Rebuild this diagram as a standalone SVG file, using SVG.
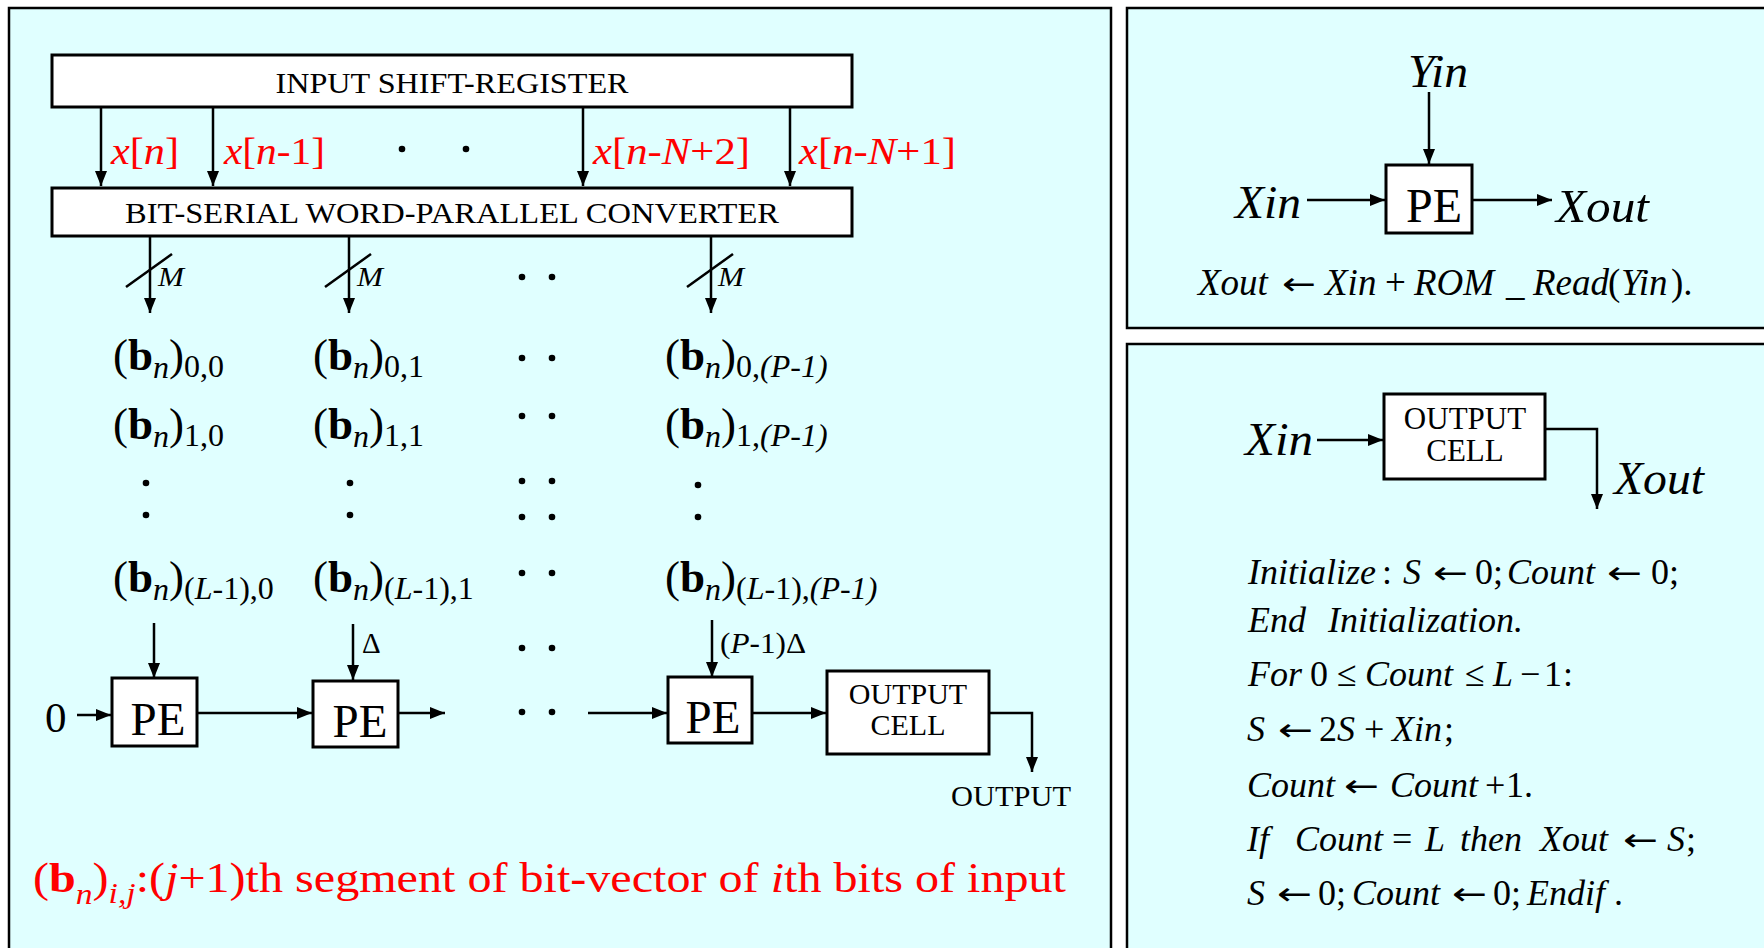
<svg xmlns="http://www.w3.org/2000/svg" width="1764" height="948" viewBox="0 0 1764 948">
<style>
text{font-family:"Liberation Serif","Times New Roman",serif;fill:#000}
.it{font-style:italic}
.bd{font-weight:bold}
.red{fill:#FF0000}
.panel{fill:#E0FFFF;stroke:#000;stroke-width:2.5}
.box{fill:#FFFFFF;stroke:#000;stroke-width:3}
.ln{fill:none;stroke:#000;stroke-width:2.5}
.m{font-size:45px}
.s{font-size:32px}
.dot{fill:#000}
.cap{font-size:29px}
.code{font-size:36px}
.arr{font-family:"DejaVu Sans",sans-serif;font-size:32px}
</style>
<defs>
<marker id="ah" markerUnits="userSpaceOnUse" markerWidth="16" markerHeight="14" refX="15" refY="7" orient="auto">
<path d="M0,1 L15,7 L0,13 z" fill="#000"/>
</marker>
</defs>
<rect width="1764" height="948" fill="#FFFFFF"/>
<rect class="panel" x="9" y="8" width="1102" height="960"/>
<rect class="panel" x="1127" y="8" width="700" height="320"/>
<rect class="panel" x="1127" y="344" width="700" height="700"/>

<g id="isr">
<rect class="box" x="52" y="55" width="800" height="52"/>
<text class="cap" x="452" y="92.5" text-anchor="middle" textLength="353" lengthAdjust="spacingAndGlyphs">INPUT SHIFT-REGISTER</text>
</g>
<g id="converter">
<rect class="box" x="52" y="188" width="800" height="48"/>
<text class="cap" x="452" y="223" text-anchor="middle" textLength="654" lengthAdjust="spacingAndGlyphs">BIT-SERIAL WORD-PARALLEL CONVERTER</text>
</g>

<g id="input-labels" font-size="38">
<text class="red" x="111" y="164" textLength="68" lengthAdjust="spacingAndGlyphs"><tspan class="it red">x</tspan>[<tspan class="it red">n</tspan>]</text>
<text class="red" x="224" y="164" textLength="101" lengthAdjust="spacingAndGlyphs"><tspan class="it red">x</tspan>[<tspan class="it red">n</tspan>-1]</text>
<text class="red" x="593" y="164" textLength="157" lengthAdjust="spacingAndGlyphs"><tspan class="it red">x</tspan>[<tspan class="it red">n</tspan>-<tspan class="it red">N</tspan>+2]</text>
<text class="red" x="799" y="164" textLength="157" lengthAdjust="spacingAndGlyphs"><tspan class="it red">x</tspan>[<tspan class="it red">n</tspan>-<tspan class="it red">N</tspan>+1]</text>
<circle class="dot" cx="402" cy="149" r="3.3"/>
<circle class="dot" cx="466" cy="149" r="3.3"/>
</g>

<g id="connectors">
<line class="ln" x1="101" y1="107" x2="101" y2="186" marker-end="url(#ah)"/>
<line class="ln" x1="213" y1="107" x2="213" y2="186" marker-end="url(#ah)"/>
<line class="ln" x1="583" y1="107" x2="583" y2="186" marker-end="url(#ah)"/>
<line class="ln" x1="790" y1="107" x2="790" y2="186" marker-end="url(#ah)"/>
<line class="ln" x1="150" y1="236" x2="150" y2="313" marker-end="url(#ah)"/>
<line class="ln" x1="349" y1="236" x2="349" y2="313" marker-end="url(#ah)"/>
<line class="ln" x1="711" y1="236" x2="711" y2="313" marker-end="url(#ah)"/>
<line class="ln" x1="126" y1="287" x2="172" y2="254"/>
<line class="ln" x1="325" y1="287" x2="371" y2="254"/>
<line class="ln" x1="687" y1="287" x2="733" y2="254"/>
<line class="ln" x1="154" y1="623" x2="154" y2="678" marker-end="url(#ah)"/>
<line class="ln" x1="353" y1="624" x2="353" y2="680" marker-end="url(#ah)"/>
<line class="ln" x1="712" y1="620" x2="712" y2="677" marker-end="url(#ah)"/>
<line class="ln" x1="77" y1="715" x2="111" y2="715" marker-end="url(#ah)"/>
<line class="ln" x1="197" y1="713" x2="312" y2="713" marker-end="url(#ah)"/>
<line class="ln" x1="398" y1="713" x2="445" y2="713" marker-end="url(#ah)"/>
<line class="ln" x1="588" y1="713" x2="667" y2="713" marker-end="url(#ah)"/>
<line class="ln" x1="752" y1="713" x2="826" y2="713" marker-end="url(#ah)"/>
<polyline class="ln" points="989,713 1032,713 1032,772" marker-end="url(#ah)"/>
<line class="ln" x1="1429" y1="92" x2="1429" y2="164" marker-end="url(#ah)"/>
<line class="ln" x1="1307" y1="200" x2="1385" y2="200" marker-end="url(#ah)"/>
<line class="ln" x1="1473" y1="200" x2="1552" y2="200" marker-end="url(#ah)"/>
<line class="ln" x1="1317" y1="440" x2="1383" y2="440" marker-end="url(#ah)"/>
<polyline class="ln" points="1545,429 1597,429 1597,509" marker-end="url(#ah)"/>
</g>

<g id="bus-labels" font-size="27">
<text class="it" x="158" y="286" textLength="26" lengthAdjust="spacingAndGlyphs">M</text>
<text class="it" x="357" y="286" textLength="26" lengthAdjust="spacingAndGlyphs">M</text>
<text class="it" x="718" y="286" textLength="26" lengthAdjust="spacingAndGlyphs">M</text>
</g>

<g id="matrix">
<text class="m" x="113" y="370">(<tspan class="bd">b</tspan><tspan class="s it" dy="8">n</tspan><tspan dy="-8">)</tspan><tspan class="s" dy="7">0,0</tspan></text>
<text class="m" x="313" y="370">(<tspan class="bd">b</tspan><tspan class="s it" dy="8">n</tspan><tspan dy="-8">)</tspan><tspan class="s" dy="7">0,1</tspan></text>
<text class="m" x="665" y="370">(<tspan class="bd">b</tspan><tspan class="s it" dy="8">n</tspan><tspan dy="-8">)</tspan><tspan class="s" dy="7">0,</tspan><tspan class="s it">(P-1)</tspan></text>
<text class="m" x="113" y="439">(<tspan class="bd">b</tspan><tspan class="s it" dy="8">n</tspan><tspan dy="-8">)</tspan><tspan class="s" dy="7">1,0</tspan></text>
<text class="m" x="313" y="439">(<tspan class="bd">b</tspan><tspan class="s it" dy="8">n</tspan><tspan dy="-8">)</tspan><tspan class="s" dy="7">1,1</tspan></text>
<text class="m" x="665" y="439">(<tspan class="bd">b</tspan><tspan class="s it" dy="8">n</tspan><tspan dy="-8">)</tspan><tspan class="s" dy="7">1,</tspan><tspan class="s it">(P-1)</tspan></text>
<text class="m" x="113" y="592">(<tspan class="bd">b</tspan><tspan class="s it" dy="8">n</tspan><tspan dy="-8">)</tspan><tspan class="s" dy="7">(</tspan><tspan class="s it">L</tspan><tspan class="s">-1),0</tspan></text>
<text class="m" x="313" y="592">(<tspan class="bd">b</tspan><tspan class="s it" dy="8">n</tspan><tspan dy="-8">)</tspan><tspan class="s" dy="7">(</tspan><tspan class="s it">L</tspan><tspan class="s">-1),1</tspan></text>
<text class="m" x="665" y="592">(<tspan class="bd">b</tspan><tspan class="s it" dy="8">n</tspan><tspan dy="-8">)</tspan><tspan class="s" dy="7">(</tspan><tspan class="s it">L</tspan><tspan class="s">-1),</tspan><tspan class="s it">(P-1)</tspan></text>
<circle class="dot" cx="146" cy="483" r="3.3"/>
<circle class="dot" cx="146" cy="515" r="3.3"/>
<circle class="dot" cx="350" cy="483" r="3.3"/>
<circle class="dot" cx="350" cy="515" r="3.3"/>
<circle class="dot" cx="698" cy="485" r="3.3"/>
<circle class="dot" cx="698" cy="517" r="3.3"/>
<circle class="dot" cx="522" cy="277" r="3.3"/><circle class="dot" cx="552" cy="277" r="3.3"/>
<circle class="dot" cx="522" cy="358" r="3.3"/><circle class="dot" cx="552" cy="358" r="3.3"/>
<circle class="dot" cx="522" cy="416" r="3.3"/><circle class="dot" cx="552" cy="416" r="3.3"/>
<circle class="dot" cx="522" cy="481" r="3.3"/><circle class="dot" cx="552" cy="481" r="3.3"/>
<circle class="dot" cx="522" cy="517" r="3.3"/><circle class="dot" cx="552" cy="517" r="3.3"/>
<circle class="dot" cx="522" cy="573" r="3.3"/><circle class="dot" cx="552" cy="573" r="3.3"/>
<circle class="dot" cx="522" cy="648" r="3.3"/><circle class="dot" cx="552" cy="648" r="3.3"/>
<circle class="dot" cx="522" cy="712" r="3.3"/><circle class="dot" cx="552" cy="712" r="3.3"/>
</g>

<g id="delays" font-size="29">
<text x="362" y="653">Δ</text>
<text x="720" y="653" textLength="86" lengthAdjust="spacingAndGlyphs">(<tspan class="it">P</tspan>-1)Δ</text>
</g>

<g id="zero"><text x="45" y="732" font-size="43">0</text></g>
<g id="pe1"><rect class="box" x="112" y="678" width="85" height="68"/><text x="158" y="735" font-size="47" text-anchor="middle">PE</text></g>
<g id="pe2"><rect class="box" x="313" y="681" width="85" height="66"/><text x="360" y="737" font-size="47" text-anchor="middle">PE</text></g>
<g id="pe3"><rect class="box" x="668" y="677" width="84" height="66"/><text x="713" y="733" font-size="47" text-anchor="middle">PE</text></g>
<g id="output-cell"><rect class="box" x="827" y="671" width="162" height="83"/>
<text x="908" y="704" font-size="30" text-anchor="middle">OUTPUT</text>
<text x="908" y="735" font-size="30" text-anchor="middle">CELL</text></g>
<g id="output-label"><text x="1011" y="806" font-size="30" text-anchor="middle" textLength="120" lengthAdjust="spacingAndGlyphs">OUTPUT</text></g>

<g id="caption">
<text class="red" x="33" y="892" font-size="43" textLength="1033" lengthAdjust="spacingAndGlyphs">(<tspan class="bd red">b</tspan><tspan class="it red" font-size="30" dy="12">n</tspan><tspan dy="-12">)</tspan><tspan class="it red" font-size="30" dy="11">i,j</tspan><tspan dy="-11">:(</tspan><tspan class="it red">j</tspan>+1)th segment of bit-vector of <tspan class="it red">i</tspan>th bits of input</text>
</g>

<g id="pe-detail">
<text class="it" x="1438" y="87" font-size="46" text-anchor="middle" textLength="60" lengthAdjust="spacingAndGlyphs">Yin</text>
<rect class="box" x="1386" y="165" width="86" height="68" stroke-width="2.5"/>
<text x="1434" y="222" font-size="48" text-anchor="middle">PE</text>
<text class="it" x="1235" y="218" font-size="46" textLength="66" lengthAdjust="spacingAndGlyphs">Xin</text>
<text class="it" x="1556" y="222" font-size="47" textLength="93" lengthAdjust="spacingAndGlyphs">Xout</text>
<text font-size="37" y="295"><tspan class="it" x="1198">Xout</tspan><tspan class="it" x="1325">Xin</tspan><tspan x="1385">+</tspan><tspan class="it" x="1414">ROM</tspan><tspan x="1506">_</tspan><tspan class="it" x="1533">Read</tspan><tspan x="1608">(</tspan><tspan class="it" x="1621">Yin</tspan><tspan x="1671">).</tspan></text>
<text class="arr" x="1282" y="295" textLength="34" lengthAdjust="spacingAndGlyphs">←</text>
</g>

<g id="oc-detail">
<text class="it" x="1245" y="455" font-size="46" textLength="68" lengthAdjust="spacingAndGlyphs">Xin</text>
<rect class="box" x="1384" y="394" width="161" height="85" stroke-width="2.5"/>
<text x="1465" y="429" font-size="31" text-anchor="middle">OUTPUT</text>
<text x="1465" y="461" font-size="31" text-anchor="middle">CELL</text>
<text class="it" x="1614" y="494" font-size="46" textLength="90" lengthAdjust="spacingAndGlyphs">Xout</text>
</g>

<g id="oc-algorithm">
<text class="code" y="584"><tspan class="it" x="1248">Initialize</tspan><tspan x="1382">:</tspan><tspan class="it" x="1403">S</tspan><tspan x="1475">0;</tspan><tspan class="it" x="1507">Count</tspan><tspan x="1651">0;</tspan></text>
<text class="arr" x="1433" y="584" textLength="35" lengthAdjust="spacingAndGlyphs">←</text>
<text class="arr" x="1607" y="584" textLength="35" lengthAdjust="spacingAndGlyphs">←</text>

<text class="code it" y="632"><tspan x="1248">End</tspan><tspan x="1328">Initialization.</tspan></text>

<text class="code" y="686"><tspan class="it" x="1248">For</tspan><tspan x="1310">0</tspan><tspan x="1337">≤</tspan><tspan class="it" x="1365">Count</tspan><tspan x="1465">≤</tspan><tspan class="it" x="1493">L</tspan><tspan x="1520">−</tspan><tspan x="1544">1</tspan><tspan x="1563">:</tspan></text>

<text class="code" y="741"><tspan class="it" x="1247">S</tspan><tspan x="1319">2</tspan><tspan class="it" x="1337">S</tspan><tspan x="1364">+</tspan><tspan class="it" x="1392">Xin</tspan><tspan x="1444">;</tspan></text>
<text class="arr" x="1278" y="741" textLength="35" lengthAdjust="spacingAndGlyphs">←</text>

<text class="code" y="797"><tspan class="it" x="1247">Count</tspan><tspan class="it" x="1390">Count</tspan><tspan x="1485">+</tspan><tspan x="1506">1.</tspan></text>
<text class="arr" x="1344" y="797" textLength="35" lengthAdjust="spacingAndGlyphs">←</text>

<text class="code" y="851"><tspan class="it" x="1247">If</tspan><tspan class="it" x="1295">Count</tspan><tspan x="1392">=</tspan><tspan class="it" x="1425">L</tspan><tspan class="it" x="1460">then</tspan><tspan class="it" x="1540">Xout</tspan><tspan class="it" x="1667">S</tspan><tspan x="1686">;</tspan></text>
<text class="arr" x="1623" y="851" textLength="35" lengthAdjust="spacingAndGlyphs">←</text>

<text class="code" y="905"><tspan class="it" x="1247">S</tspan><tspan x="1318">0;</tspan><tspan class="it" x="1352">Count</tspan><tspan x="1493">0;</tspan><tspan class="it" x="1527">Endif</tspan><tspan x="1614">.</tspan></text>
<text class="arr" x="1277" y="905" textLength="35" lengthAdjust="spacingAndGlyphs">←</text>
<text class="arr" x="1452" y="905" textLength="35" lengthAdjust="spacingAndGlyphs">←</text>
</g>
</svg>
